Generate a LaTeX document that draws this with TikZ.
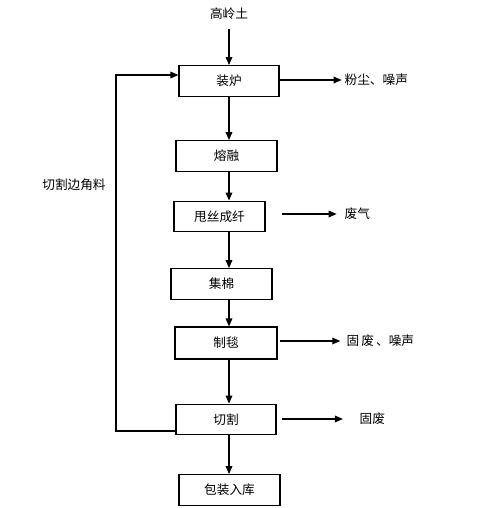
\documentclass[tikz,border=0pt]{standalone}
\usepackage{fontspec}
\newfontfamily\cjk{Noto Sans CJK SC}
\usetikzlibrary{arrows.meta}
\begin{document}
\begin{tikzpicture}[x=0.75pt,y=-0.75pt,
  every node/.style={font=\cjk\fontsize{9.5}{11}\selectfont},
  stepbox/.style={draw,line width=0.9pt,minimum width=#1*0.75pt,minimum height=23pt,inner sep=0pt},
  lbl/.style={anchor=west,inner sep=1pt},
  arr/.style={line width=0.9pt,-{Triangle[length=6pt,width=5pt]}},
  ln/.style={line width=0.9pt}]
\useasboundingbox (0,0) rectangle (478,508);
\coordinate (vx) at (229,0);
\node (top) at (229,14) {高岭土};
\node[stepbox=100] (zl) at (229,81) {装炉};
\node[stepbox=101] (rr) at (226.5,156) {熔融};
\node[stepbox=91] (sx) at (219.5,216.5) {甩丝成纤};
\node[stepbox=101] (jm) at (221.5,284) {集棉};
\node[stepbox=102,minimum height=24pt] (zt) at (226,343) {制毯};
\node[stepbox=100] (qg) at (226,419.5) {切割};
\node[stepbox=101] (bz) at (229.5,490) {包装入库};
% vertical flow
\draw[arr] (top.south -| vx) ++(0,4) -- (zl.north -| vx);
\draw[arr] (zl.south -| vx) -- (rr.north -| vx);
\draw[arr] (rr.south -| vx) -- (sx.north -| vx);
\draw[arr] (sx.south -| vx) -- (jm.north -| vx);
\draw[arr] (jm.south -| vx) -- (zt.north -| vx);
\draw[arr] (zt.south -| vx) -- (qg.north -| vx);
\draw[arr] (qg.south -| vx) -- (bz.north -| vx);
% side outputs
\node[lbl] (o1) at (343,80) {粉尘、噪声};
\node[lbl] (o2) at (343,214) {废气};
\node[lbl] (o3) at (345,341) {固\,废\,、噪声};
\node[lbl] (o4) at (358,419) {固废};
\draw[arr] (zl.east |- o1) -- ++(62,0);
\draw[arr] ([xshift=12pt]sx.east |- o2) -- ++(55,0);
\draw[arr] ([xshift=2pt]zt.east |- o3) -- ++(60,0);
\draw[arr] ([xshift=4pt]qg.east |- o4) -- ++(61,0);
% feedback
\coordinate (fb) at (116,0);
\draw[ln,-{Triangle[length=6pt,width=5pt]}] (qg.west |- 0,431) -| (fb |- 0,75) -- (zl.west |- 0,75);
\node (fbl) at (74,185) {切割边角料};
\end{tikzpicture}
\end{document}
